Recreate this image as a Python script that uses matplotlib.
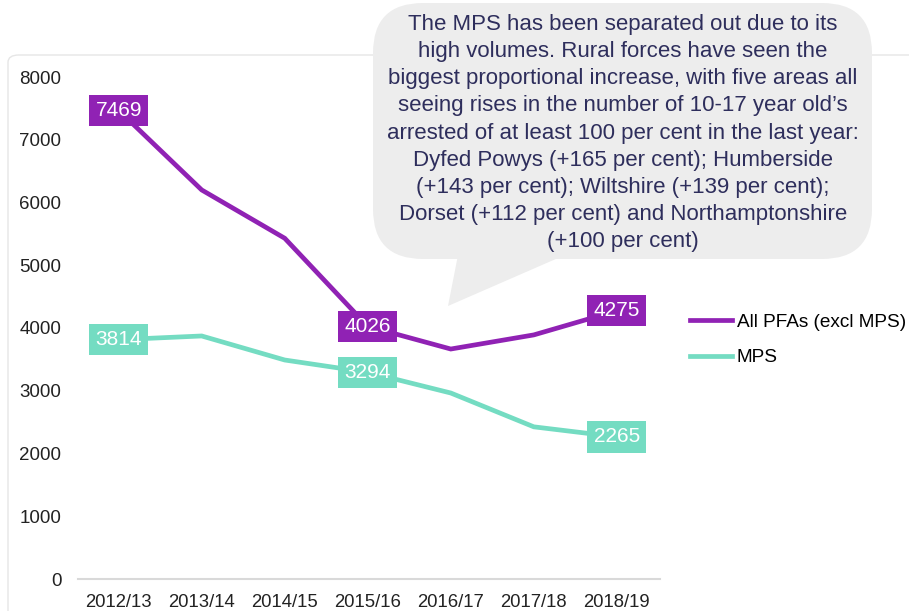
import matplotlib
matplotlib.use("Agg")
import matplotlib.pyplot as plt
from matplotlib.patches import FancyBboxPatch, Polygon

plt.rcParams['font.family'] = ['Liberation Sans', 'DejaVu Sans']

years = ["2012/13", "2013/14", "2014/15", "2015/16", "2016/17", "2017/18", "2018/19"]
pfa = [7469, 6200, 5430, 4026, 3665, 3890, 4275]
mps = [3814, 3873, 3490, 3294, 2964, 2425, 2265]
pfa_labelled = [0, 3, 6]
mps_labelled = [0, 3, 6]
yticks = [0, 1000, 2000, 3000, 4000, 5000, 6000, 7000, 8000]
callout = ("The MPS has been separated out due to its\n"
           "high volumes. Rural forces have seen the\n"
           "biggest proportional increase, with five areas all\n"
           "seeing rises in the number of 10-17 year old\u2019s\n"
           "arrested of at least 100 per cent in the last year:\n"
           "Dyfed Powys (+165 per cent); Humberside\n"
           "(+143 per cent); Wiltshire (+139 per cent);\n"
           "Dorset (+112 per cent) and Northamptonshire\n"
           "(+100 per cent)")

PURPLE = "#9022b4"
TEAL = "#74dcc2"

W, H = 909, 611
fig = plt.figure(figsize=(W / 100, H / 100), dpi=100)

def fx(px):
    return px / W

def fy(py):
    return 1 - py / H

# faint outer frame
frame = FancyBboxPatch((fx(8), fy(640)), fx(940), fy(55) - fy(640),
                       boxstyle="round,pad=0,rounding_size=0.012",
                       transform=fig.transFigure, facecolor="none",
                       edgecolor="#e6e6e6", linewidth=1.0, zorder=-1)
fig.patches.append(frame)

ax = fig.add_axes([fx(78), fy(579), fx(660) - fx(78), fy(77) - fy(579)])
ax.set_facecolor("none")
x = list(range(len(years)))
ax.plot(x, pfa, color=PURPLE, lw=3.4, label="All PFAs (excl MPS)", zorder=3,
        solid_joinstyle="miter")
ax.plot(x, mps, color=TEAL, lw=3.4, label="MPS", zorder=3,
        solid_joinstyle="miter")

for i in pfa_labelled:
    ax.text(i, pfa[i], str(pfa[i]), ha="center", va="center", color="white",
            fontsize=15, zorder=5,
            bbox=dict(boxstyle="square,pad=0.3", facecolor=PURPLE, edgecolor="none"))
for i in mps_labelled:
    ax.text(i, mps[i], str(mps[i]), ha="center", va="center", color="white",
            fontsize=15, zorder=5,
            bbox=dict(boxstyle="square,pad=0.3", facecolor=TEAL, edgecolor="none"))

ax.set_xlim(-0.49, 6.52)
ax.set_ylim(0, 8000)
ax.set_xticks(x)
ax.set_xticklabels(years, fontsize=13.3, color="#222222")
ax.set_yticks(yticks)
ax.set_yticklabels([str(v) for v in yticks], fontsize=13.5, color="#222222")
ax.tick_params(axis="both", length=0)
ax.tick_params(axis="y", pad=12)
ax.tick_params(axis="x", pad=11)
for s in ["top", "right", "left"]:
    ax.spines[s].set_visible(False)
ax.spines["bottom"].set_color("#d9d9d9")
ax.spines["bottom"].set_linewidth(1.5)

leg = ax.legend(loc="center left", bbox_to_anchor=(fx(673), fy(340)),
                bbox_transform=fig.transFigure, frameon=False, fontsize=13.7,
                handlelength=2.2, handletextpad=0.25, labelspacing=0.95)

# callout bubble
bub = FancyBboxPatch((fx(373), fy(259)), fx(872) - fx(373), fy(3) - fy(259),
                     boxstyle="round,pad=0,rounding_size=0.055",
                     mutation_aspect=W / H,
                     transform=fig.transFigure, facecolor="#ededed",
                     edgecolor="none", zorder=6)
fig.patches.append(bub)
tail = Polygon([(fx(458), fy(255)), (fx(565), fy(255)), (fx(448), fy(306))],
               closed=True, transform=fig.transFigure, facecolor="#ededed",
               edgecolor="none", zorder=6)
fig.patches.append(tail)
fig.text(fx(623), fy(133), callout, ha="center", va="center", fontsize=16,
         color="#2e2e5c", linespacing=1.38, zorder=7)

fig.savefig("out.png", dpi=100)
